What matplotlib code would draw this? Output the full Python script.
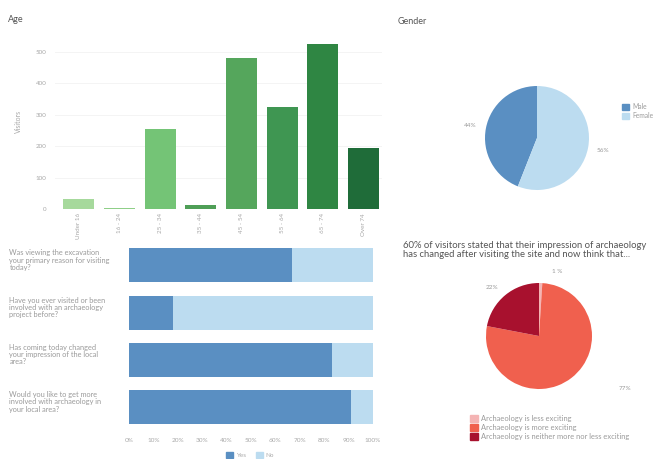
import numpy as np
import matplotlib as mpl
mpl.use('Agg')
import matplotlib.pyplot as plt
from matplotlib.patches import Patch

plt.rcParams['font.family'] = ['Lato', 'DejaVu Sans']

# age breakdown
age_groups = ["Under 16", "16 - 24", "25 - 34", "35 - 44", "45 - 54", "55 - 64", "65 - 74", "Over 74"]
age_visitors = [32, 2, 255, 12, 480, 323, 526, 195]
age_colors = ["#a6d99c", "#8fcf88", "#74c476", "#4f9f57", "#55a65c", "#3f9652", "#2f8643", "#1f6c39"]

# yes/no questions
questions = ["Was viewing the excavation\nyour primary reason for visiting\ntoday?",
             "Have you ever visited or been\ninvolved with an archaeology\nproject before?",
             "Has coming today changed\nyour impression of the local\narea?",
             "Would you like to get more\ninvolved with archaeology in\nyour local area?"]
yes_share = [0.67, 0.18, 0.83, 0.91]

# gender
gender_labels = ["Male", "Female"]
gender_share = [44, 56]

# impression of archaeology
impression_labels = ["Archaeology is less exciting", "Archaeology is more exciting",
                     "Archaeology is neither more nor less exciting"]
impression_share = [1, 77, 22]

W, H = 655, 459
fig = plt.figure(figsize=(W / 100, H / 100), dpi=100)


def px_axes(left, top, width, height):
    return fig.add_axes([left / W, 1 - (top + height) / H, width / W, height / H])


tick_grey = "#a8a8a8"
text_grey = "#9a9a9a"

# --- Age bars ---
ax = px_axes(55, 33, 327, 176)
x = np.arange(len(age_groups))
ax.bar(x, age_visitors, width=0.76, color=age_colors, zorder=2)
ax.set_xlim(-0.58, 7.45)
ax.set_ylim(0, 560)
ax.set_yticks([0, 100, 200, 300, 400, 500])
ax.set_xticks(x)
ax.set_xticklabels(age_groups, rotation=90, fontsize=4.5, color=tick_grey)
ax.tick_params(axis='y', labelsize=4.5, labelcolor=tick_grey, length=0, pad=6)
ax.tick_params(axis='x', length=0, pad=3)
ax.grid(axis='y', color="#f2f2f2", linewidth=0.6, zorder=0)
for s in ax.spines.values():
    s.set_visible(False)
ax.set_ylabel("Visitors", fontsize=5, color=tick_grey, labelpad=10)
fig.text(8 / W, 1 - 20 / H, "Age", fontsize=6.5, color="#555555", va='center')

# --- Yes / No stacked bars ---
ax2 = px_axes(129, 240, 244, 192)
yq = np.arange(len(questions))
no_share = [1 - v for v in yes_share]
ax2.barh(yq, yes_share, height=0.72, color="#5a8fc2")
ax2.barh(yq, no_share, left=yes_share, height=0.72, color="#bcdcf0")
ax2.set_xlim(0, 1)
ax2.set_ylim(3.53, -0.54)
ax2.set_yticks([])
ax2.set_xticks(np.linspace(0, 1, 11))
ax2.set_xticklabels([f"{int(round(v * 100))}%" for v in np.linspace(0, 1, 11)],
                    fontsize=4.6, color=tick_grey)
ax2.tick_params(axis='x', length=0, pad=4)
for s in ax2.spines.values():
    s.set_visible(False)
for i, q in enumerate(questions):
    ax2.text(-0.49, i - 0.34, q, transform=ax2.transData, fontsize=5.3,
             color=text_grey, ha='left', va='top', linespacing=1.05)
fig.legend(handles=[Patch(color="#5a8fc2", label="Yes"), Patch(color="#bcdcf0", label="No")],
           loc='center', bbox_to_anchor=(250 / W, 1 - 455 / H), ncol=2, frameon=False,
           fontsize=4.6, labelcolor=tick_grey, handlelength=1.1, handleheight=1.1,
           columnspacing=1.5, handletextpad=0.5)

# --- Gender pie ---
ax3 = px_axes(537 - 52, 138 - 52, 104, 104)
gender_colors = ["#5a8fc2", "#bcdcf0"]
w3, t3, a3 = ax3.pie(gender_share, colors=gender_colors, startangle=90, counterclock=True,
                     autopct='%d%%', pctdistance=1.3, radius=1,
                     textprops=dict(fontsize=4.6, color=text_grey))
ax3.set_xlim(-1, 1)
ax3.set_ylim(-1, 1)
fig.text(398 / W, 1 - 22 / H, "Gender", fontsize=6.5, color="#555555", va='center')
fig.legend(handles=[Patch(color=c, label=l) for c, l in zip(gender_colors, gender_labels)],
           loc='upper left', bbox_to_anchor=(619 / W, 1 - 100 / H), frameon=False,
           fontsize=4.8, labelcolor=text_grey, handlelength=1.0, handleheight=1.0,
           handletextpad=0.5, labelspacing=0.3, borderpad=0)

# --- Impression pie ---
ax4 = px_axes(539 - 53, 336 - 53, 106, 106)
imp_colors = ["#f4b4b4", "#f0604e", "#a8112e"]
w4, t4, a4 = ax4.pie(impression_share, colors=imp_colors, startangle=90, counterclock=False,
                     autopct='%d%%', pctdistance=1.25, radius=1,
                     textprops=dict(fontsize=4.6, color=text_grey))
a4[0].set_position((0.34, 1.21))
a4[0].set_text("1 %")
a4[1].set_position((1.62, -1.0))
a4[2].set_position((-0.89, 0.92))
ax4.set_xlim(-1, 1)
ax4.set_ylim(-1, 1)
fig.text(403 / W, 1 - 250 / H,
         "60% of visitors stated that their impression of archaeology\n"
         "has changed after visiting the site and now think that...",
         fontsize=6.8, color="#555555", va='center', ha='left', linespacing=1.0)
fig.legend(handles=[Patch(color=c, label=l) for c, l in zip(imp_colors, impression_labels)],
           loc='upper left', bbox_to_anchor=(466 / W, 1 - 411 / H), frameon=False,
           fontsize=5.4, labelcolor=text_grey, handlelength=1.05, handleheight=1.05,
           handletextpad=0.5, labelspacing=0.25, borderpad=0)

plt.savefig("out.png", dpi=100)
